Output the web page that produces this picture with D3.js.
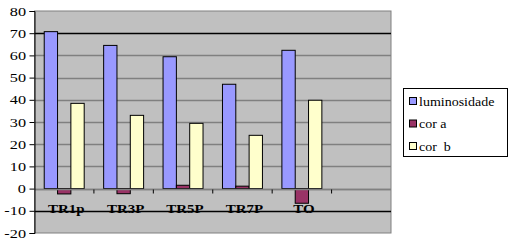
<!DOCTYPE html>
<html>
<head>
<meta charset="utf-8">
<script src="https://cdn.jsdelivr.net/npm/d3@7"></script>
<style>
  body { margin: 0; background: #fff; }
</style>
</head>
<body>
<svg width="513" height="244"></svg>
<script>
const categories = ["TR1p", "TR3P", "TR5P", "TR7P", "TO", ""];
const seriesNames = ["luminosidade", "cor a", "cor  b"];
const luminosidade = [70.7, 64.5, 59.4, 47.0, 62.3];
const corA = [-2.4, -2.3, 1.5, 1.1, -6.6];
const corB = [38.4, 33.0, 29.4, 24.0, 39.8];
const yTicks = [80, 70, 60, 50, 40, 30, 20, 10, 0, -10, -20];
const colors = ["#9999ff", "#993366", "#ffffcc"];

const serif = "'Times New Roman', 'Liberation Serif', Tinos, 'DejaVu Serif', serif";
const svg = d3.select("svg");
const plot = { left: 34.5, top: 11, right: 391, bottom: 233 };
const sx = 1.12; // text in the picture is stretched sideways

const x = d3.scaleBand().domain(categories).range([plot.left, plot.right]);
const x1 = d3.scaleBand().domain(seriesNames).range([0, x.bandwidth()]).paddingOuter(0.73).paddingInner(0);
const y = d3.scaleLinear().domain([-20, 80]).range([plot.bottom, plot.top]);

// plot background
svg.append("rect")
  .attr("x", plot.left).attr("y", plot.top)
  .attr("width", plot.right - plot.left).attr("height", plot.bottom - plot.top)
  .attr("fill", "#c0c0c0").attr("stroke", "#808080");

// gridlines
svg.append("g")
  .selectAll("line")
  .data(yTicks.filter(d => d !== 80 && d !== -20))
  .join("line")
  .attr("x1", plot.left).attr("x2", plot.right)
  .attr("y1", d => Math.round(y(d)) + 0.5).attr("y2", d => Math.round(y(d)) + 0.5)
  .attr("stroke", d => (d === 70 || d === -10) ? "#000" : "#808080")
  .attr("stroke-width", 1.3);

// bars
const rows = categories.slice(0, 5).map((c, i) => ({ cat: c, vals: [luminosidade[i], corA[i], corB[i]] }));
const groups = svg.append("g").selectAll("g")
  .data(rows)
  .join("g")
  .attr("transform", d => `translate(${x(d.cat)},0)`);
groups.selectAll("rect")
  .data(d => d.vals.map((v, k) => ({ name: seriesNames[k], v, k })))
  .join("rect")
  .attr("x", d => x1(d.name))
  .attr("width", x1.bandwidth())
  .attr("y", d => y(Math.max(0, d.v)))
  .attr("height", d => Math.abs(y(d.v) - y(0)))
  .attr("fill", d => colors[d.k])
  .attr("stroke", "#000")
  .attr("stroke-width", 1);

// category axis at zero
const xAxis = svg.append("g").attr("transform", `translate(0,${Math.round(y(0)) + 0.5})`);
xAxis.append("line").attr("x1", plot.left).attr("x2", plot.right).attr("stroke", "#808080").attr("stroke-width", 1.3);
xAxis.selectAll(".tk")
  .data(categories.slice(1))
  .join("line")
  .attr("x1", d => x(d)).attr("x2", d => x(d))
  .attr("y1", 0).attr("y2", 4)
  .attr("stroke", "#000");
svg.append("g").selectAll("text")
  .data(categories.slice(0, 5))
  .join("text")
  .attr("transform", d => `translate(${x(d) + x.bandwidth() / 2 + 2},212.5) scale(1.15,1)`)
  .attr("text-anchor", "middle")
  .style("font-family", serif)
  .style("font-size", "13px")
  .style("font-weight", "bold")
  .text(d => d);

// value axis
const yAxis = svg.append("g").attr("transform", `translate(${plot.left},0)`)
  .call(d3.axisLeft(y).tickValues(yTicks).tickSize(5).tickFormat(""));
yAxis.selectAll("line, path").attr("stroke", "#000");
svg.append("g").selectAll("text")
  .data(yTicks)
  .join("text")
  .attr("transform", d => `translate(26,${y(d) + 4.5}) scale(1.3,1)`)
  .attr("text-anchor", "end")
  .style("font-family", serif)
  .style("font-size", "12.5px")
  .text(d => d);

// legend
const legend = svg.append("g");
legend.append("rect")
  .attr("x", 403.5).attr("y", 88.5).attr("width", 104).attr("height", 68)
  .attr("fill", "#fff").attr("stroke", "#000");
const items = legend.selectAll(".item")
  .data(seriesNames)
  .join("g")
  .attr("transform", (d, i) => `translate(409,${101 + i * 22.5})`);
items.append("rect")
  .attr("x", 0.5).attr("y", -3.5).attr("width", 7).attr("height", 7)
  .attr("fill", (d, i) => colors[i]).attr("stroke", "#000");
items.append("text")
  .attr("transform", `translate(10,4.5) scale(${sx},1)`)
  .style("font-family", serif)
  .style("font-size", "12.5px")
  .style("white-space", "pre")
  .text(d => d);
</script>
</body>
</html>
